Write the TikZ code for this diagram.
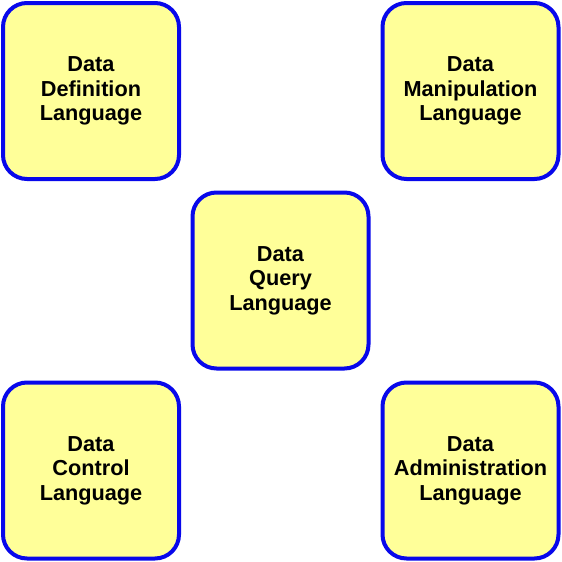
\documentclass[tikz,border=0pt]{standalone}
\usepackage{fontspec}
\setmainfont{Liberation Sans}
\definecolor{boxfill}{RGB}{255,255,153}
\definecolor{boxline}{RGB}{8,8,235}
\begin{document}
\begin{tikzpicture}[x=1pt,y=-1pt,
  langbox/.style={draw=boxline,fill=boxfill,line width=4pt,rounded corners=24pt,
    minimum width=176pt,minimum height=176pt,inner sep=0pt,align=center,
    font=\fontsize{21.7}{24.6}\selectfont\bfseries}]
\useasboundingbox (0,0) rectangle (562,562);
\node[langbox] (ddl) at (91,91) {Data\\Definition\\Language};
\node[langbox] (dml) at (470.5,91) {Data\\Manipulation\\Language};
\node[langbox] (dql) at (280.5,280.5) {Data\\Query\\Language};
\node[langbox] (dcl) at (91,470.5) {Data\\Control\\Language};
\node[langbox] (dal) at (470.5,470.5) {Data\\Administration\\Language};
\end{tikzpicture}
\end{document}
